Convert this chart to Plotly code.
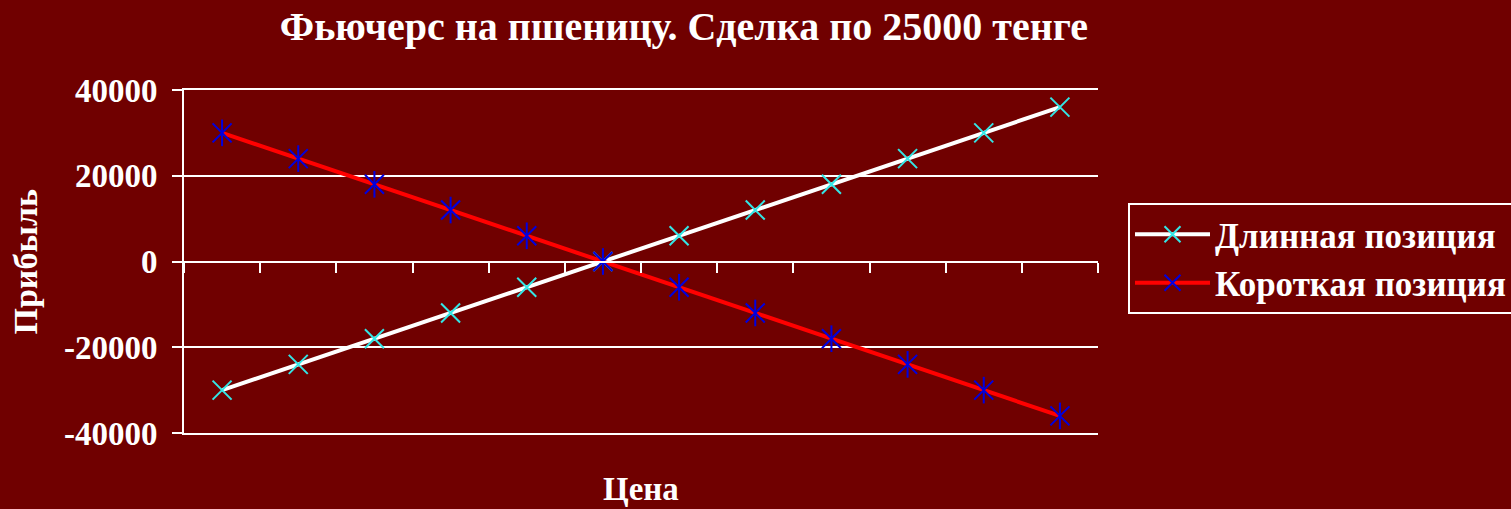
import plotly.graph_objects as go

# Price points along the horizontal axis (labels are not shown)
prices = ["19000", "20000", "21000", "22000", "23000", "24000",
          "25000", "26000", "27000", "28000", "29000", "30000"]
long_profit = [-30000, -24000, -18000, -12000, -6000, 0,
               6000, 12000, 18000, 24000, 30000, 36000]
short_profit = [30000, 24000, 18000, 12000, 6000, 0,
                -6000, -12000, -18000, -24000, -30000, -36000]
y_ticks = [-40000, -20000, 0, 20000, 40000]
y_tick_text = ["-40000", "-20000", "0", "20000", "40000"]

BG = "#700000"
SERIF = "Liberation Serif, Times New Roman, serif"
W, H = 1511, 509
L, R, T, B = 184, 413, 90, 76

fig = go.Figure()

fig.add_trace(go.Scatter(
    x=prices, y=long_profit, mode="lines+markers", name="Длинная позиция",
    line=dict(color="white", width=4),
    marker=dict(symbol="x-thin-open", size=19, color="#33e6e6",
                line=dict(color="#33e6e6", width=2)),
))
fig.add_trace(go.Scatter(
    x=prices, y=short_profit, mode="lines+markers", name="Короткая позиция",
    line=dict(color="#ff0000", width=4),
    marker=dict(symbol="x-thin-open", size=19, color="#0000e0",
                line=dict(color="#0000e0", width=2)),
))
# vertical stroke of the star markers
fig.add_trace(go.Scatter(
    x=prices, y=short_profit, mode="markers", showlegend=False, hoverinfo="skip",
    marker=dict(symbol="line-ns-open", size=19, color="#0000e0",
                line=dict(color="#0000e0", width=2)),
))
# empty trace on a frame axis that draws the top and bottom border lines
fig.add_trace(go.Scatter(
    x=prices, y=[None] * len(prices), xaxis="x2", yaxis="y",
    mode="lines", showlegend=False, hoverinfo="skip",
))

fig.update_layout(
    width=W, height=H,
    margin=dict(l=L, r=R, t=T, b=B, autoexpand=False),
    paper_bgcolor=BG, plot_bgcolor=BG,
    font=dict(family=SERIF, color="white"),
    title=dict(
        text="<b>Фьючерс на пшеницу. Сделка по 25000 тенге</b>",
        font=dict(family=SERIF, size=40, color="white"),
        xref="container", yref="container",
        x=684 / W, y=1 - 26 / H, xanchor="center", yanchor="middle",
    ),
    xaxis=dict(
        type="category", categoryorder="array", categoryarray=prices,
        range=[-0.5, len(prices) - 0.5],
        anchor="free", position=0.5,
        showline=True, linecolor="white", linewidth=2,
        ticks="outside", tickson="boundaries", ticklen=10, tickwidth=2,
        tickcolor="white", showticklabels=False, showgrid=False,
        zeroline=False,
    ),
    xaxis2=dict(
        type="category", categoryorder="array", categoryarray=prices,
        range=[-0.5, len(prices) - 0.5],
        overlaying="x", anchor="y", side="bottom",
        showline=True, mirror=True, linecolor="white", linewidth=2,
        ticks="", showticklabels=False, showgrid=False, zeroline=False,
    ),
    yaxis=dict(
        range=[-40000, 40000],
        tickvals=y_ticks, ticktext=y_tick_text,
        showline=True, linecolor="white", linewidth=2,
        ticks="outside", ticklen=10, tickwidth=2, tickcolor="white",
        showgrid=True, gridcolor="white", gridwidth=2,
        zeroline=False, ticklabelstandoff=8,
        tickfont=dict(family=SERIF, size=33, color="white", weight="bold"),
    ),
    legend=dict(
        xref="container", yref="container",
        x=1128 / W, y=1 - 203 / H, xanchor="left", yanchor="top",
        bgcolor=BG, bordercolor="white", borderwidth=2,
        font=dict(family=SERIF, size=35, color="white", weight="bold"),
        tracegroupgap=0, itemwidth=75,
    ),
    showlegend=True,
)

fig.add_annotation(
    text="<b>Цена</b>", xref="paper", yref="paper",
    x=0.5, y=-(489 - 433) / (H - T - B), xanchor="center", yanchor="middle",
    showarrow=False, font=dict(family=SERIF, size=33, color="white"),
)
fig.add_annotation(
    text="<b>Прибыль</b>", xref="paper", yref="paper", textangle=-90,
    x=-(184 - 25) / (W - L - R), y=0.5, xanchor="center", yanchor="middle",
    showarrow=False, font=dict(family=SERIF, size=34, color="white"),
)

fig.write_html("out.html")
